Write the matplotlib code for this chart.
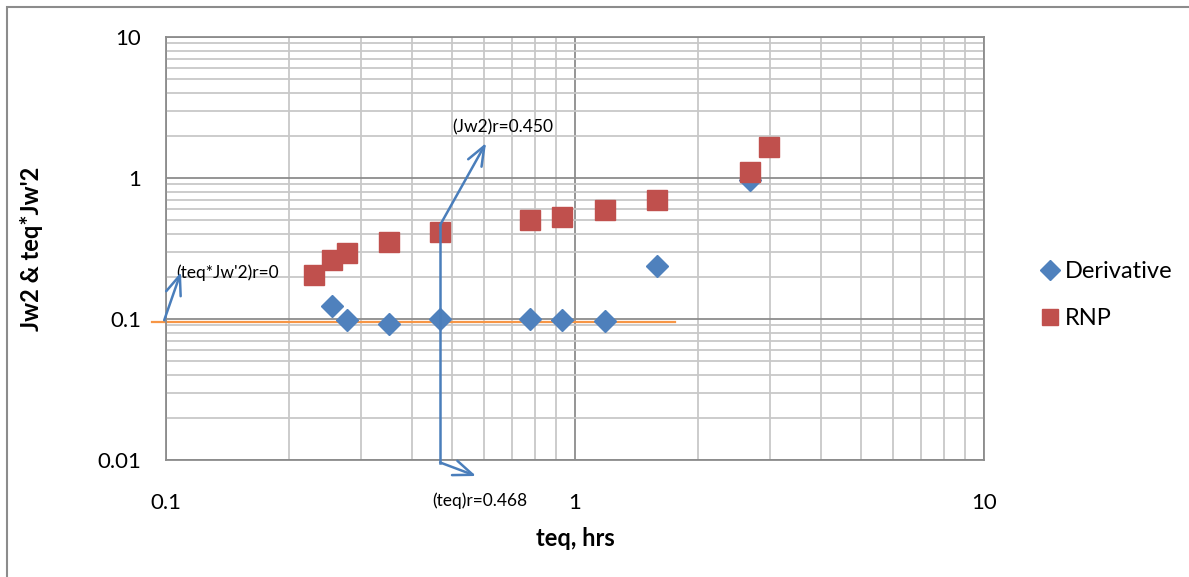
import numpy as np
import matplotlib.pyplot as plt
from matplotlib.patches import Rectangle

plt.rcParams['font.family'] = ['Lato', 'DejaVu Sans']

# 数据
teq_deriv = [0.255, 0.277, 0.351, 0.468, 0.776, 0.929, 1.184, 1.587, 2.68]
deriv = [0.124, 0.098, 0.092, 0.100, 0.100, 0.099, 0.097, 0.238, 0.97]

teq_rnp = [0.230, 0.255, 0.277, 0.351, 0.468, 0.776, 0.929, 1.184, 1.587, 2.68, 2.98]
rnp = [0.205, 0.262, 0.294, 0.352, 0.414, 0.503, 0.529, 0.593, 0.698, 1.10, 1.66]

# 水平线 (导数稳定段)
flat_x = [0.0924, 1.756]
flat_y = [0.095, 0.095]

# 标注箭头
arrow_color = '#4A7EBB'
ann_zero = dict(start=(0.099, 0.098), end=(0.1088, 0.215), text="(teq*Jw'2)r=0", txt=(0.1058, 0.212))
ann_jw2 = dict(pts=[(0.468, 0.0095), (0.468, 0.464)], end=(0.606, 1.77), text="(Jw2)r=0.450", txt=(0.5005, 2.30))
ann_teq = dict(start=(0.468, 0.0096), end=(0.573, 0.0077), text="(teq)r=0.468", txt=(0.448, 0.0051))

fig = plt.figure(figsize=(11.89, 5.77), dpi=100)
ax = fig.add_axes([0.1396, 0.2028, 0.8276 - 0.1396, 0.9359 - 0.2028])

ax.set_xscale('log')
ax.set_yscale('log')
ax.set_xlim(0.1, 10)
ax.set_ylim(0.01, 10)

ax.grid(True, which='minor', color='#C8C8C8', lw=1.3)
ax.grid(True, which='major', color='#8C8C8C', lw=1.3)
ax.set_axisbelow(True)
for s in ax.spines.values():
    s.set_color('#8C8C8C')
    s.set_linewidth(1.3)

ax.set_xticks([0.1, 1, 10])
ax.set_xticklabels(['0.1', '1', '10'])
ax.set_yticks([0.01, 0.1, 1, 10])
ax.set_yticklabels(['0.01', '0.1', '1', '10'])
ax.tick_params(which='both', length=0, labelsize=16)
ax.tick_params(axis='x', pad=24)
ax.tick_params(axis='y', pad=18)

ax.plot(flat_x, flat_y, color='#F79646', lw=1.6, clip_on=False, zorder=2)

ax.plot(teq_deriv, deriv, 'D', color='#4F81BD', ms=11.5, mec='#4F81BD', label='Derivative', zorder=3)
ax.plot(teq_rnp, rnp, 's', color='#C0504D', ms=14, mec='#C0504D', label='RNP', zorder=4)

arrowprops = dict(arrowstyle='->,head_length=1.4,head_width=0.55', color=arrow_color, lw=1.8,
                  shrinkA=0, shrinkB=0)
ax.annotate('', xy=ann_zero['end'], xytext=ann_zero['start'], arrowprops=arrowprops,
            annotation_clip=False, zorder=5)
xs, ys = zip(*ann_jw2['pts'])
ax.plot(xs, ys, color=arrow_color, lw=1.8, clip_on=False, zorder=5)
ax.annotate('', xy=ann_jw2['end'], xytext=ann_jw2['pts'][-1], arrowprops=arrowprops,
            annotation_clip=False, zorder=5)
ax.annotate('', xy=ann_teq['end'], xytext=ann_teq['start'], arrowprops=arrowprops,
            annotation_clip=False, zorder=5)

ax.text(ann_zero['txt'][0], ann_zero['txt'][1], ann_zero['text'], fontsize=12.5, va='center', ha='left')
ax.text(ann_jw2['txt'][0], ann_jw2['txt'][1], ann_jw2['text'], fontsize=12.5, va='center', ha='left')
ax.text(ann_teq['txt'][0], ann_teq['txt'][1], ann_teq['text'], fontsize=12.5, va='center', ha='left',
        clip_on=False)

ax.set_xlabel('teq, hrs', fontsize=17, fontweight='bold', labelpad=10)
ax.set_ylabel("Jw2 & teq*Jw'2", fontsize=17, fontweight='bold', labelpad=39)

leg = ax.legend(loc='center left', bbox_to_anchor=(1.04, 0.39), frameon=False, fontsize=17,
                handletextpad=0.15, labelspacing=1.1, handlelength=1.0, markerscale=0.85)

fig.patches.append(Rectangle((7 / 1189, -0.1), 1.2, 1 - 7 / 577 + 0.1, transform=fig.transFigure,
                             fill=False, edgecolor='#8C8C8C', lw=1.5))

fig.savefig('out.png', dpi=100)
